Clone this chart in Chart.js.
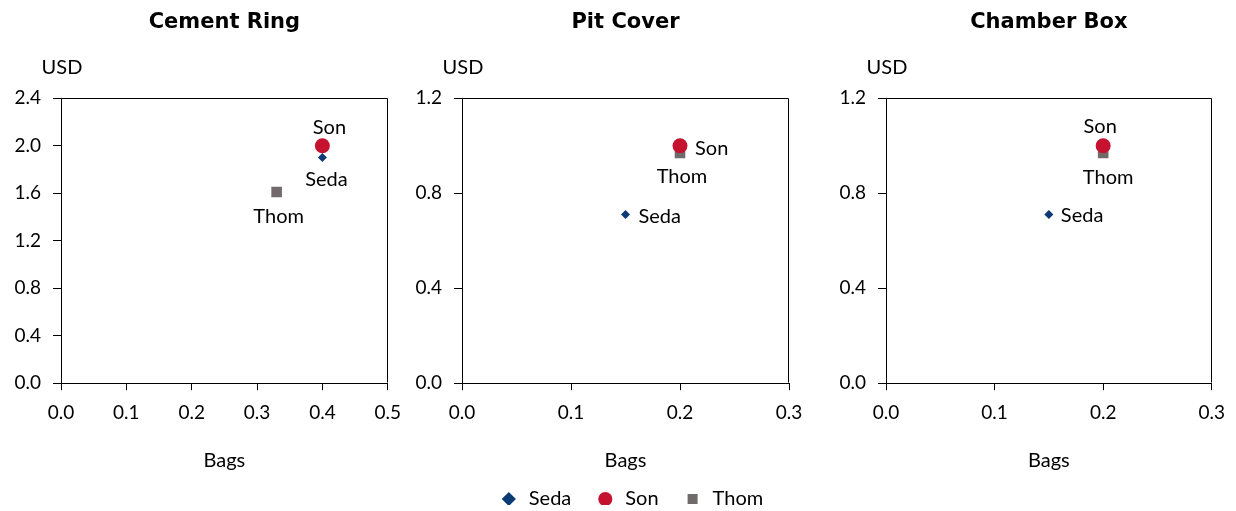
<!DOCTYPE html>
<html>
<head>
<meta charset="utf-8">
<script src="https://cdn.jsdelivr.net/npm/chart.js@4.4.1/dist/chart.umd.min.js"></script>
<style>
  html, body { margin: 0; padding: 0; background: #ffffff; }
  body { width: 1236px; height: 511px; position: relative; overflow: hidden; }
  canvas { position: absolute; }
</style>
</head>
<body>
<canvas id="c1" width="412" height="473" style="left:0px;top:0px"></canvas>
<canvas id="c2" width="412" height="473" style="left:412px;top:0px"></canvas>
<canvas id="c3" width="412" height="473" style="left:824px;top:0px"></canvas>
<canvas id="lg" width="400" height="80" style="left:431px;top:465px"></canvas>
<script>
// ---- data ----
const seriesNames = ['Seda', 'Son', 'Thom'];
const seriesColors = ['#0b3a75', '#c4122f', '#716a6a'];
const seriesShapes = ['rectRot', 'circle', 'rect'];
const seriesRadius = [4.5, 7.5, 7.5];

const chartTitles = ['Cement Ring', 'Pit Cover', 'Chamber Box'];

// Cement Ring: [bags, usd]
const cementRingSeda = [{x: 0.40, y: 1.90}];
const cementRingSon  = [{x: 0.40, y: 2.00}];
const cementRingThom = [{x: 0.33, y: 1.61}];

// Pit Cover
const pitCoverSeda = [{x: 0.15, y: 0.71}];
const pitCoverSon  = [{x: 0.20, y: 1.00}];
const pitCoverThom = [{x: 0.20, y: 0.97}];

// Chamber Box
const chamberBoxSeda = [{x: 0.15, y: 0.71}];
const chamberBoxSon  = [{x: 0.20, y: 1.00}];
const chamberBoxThom = [{x: 0.20, y: 0.97}];

// axis ranges / tick steps
const xMax = [0.5, 0.3, 0.3];
const yMax = [2.4, 1.2, 1.2];
const xStep = 0.1;
const yStep = 0.4;

const xAxisLabel = 'Bags';
const yAxisLabel = 'USD';

// ---- styling / layout (not data) ----
const FONT = 'Lato, "Open Sans", sans-serif';
const TITLE_FONT = '"DejaVu Sans", Lato, sans-serif';
const canvasLefts = [0, 412, 824];
const plotLefts = [61, 462, 886];
const rightPads = [21, 35, 21];

// label placements per chart per series: [dx, dy, textAlign]
const labelPlacement = [
  [[4, 22, 'center'], [7, -18, 'center'], [2, 25, 'center']],
  [[13, 2, 'left'], [15, 3, 'left'], [2, 24, 'center']],
  [[12, 1, 'left'], [-3, -19, 'center'], [5, 25, 'center']]
];

const allData = [
  [cementRingSeda, cementRingSon, cementRingThom],
  [pitCoverSeda, pitCoverSon, pitCoverThom],
  [chamberBoxSeda, chamberBoxSon, chamberBoxThom]
];

const boxPlugin = {
  id: 'boxPlugin',
  afterDraw(chart) {
    const a = chart.chartArea;
    const ctx = chart.ctx;
    ctx.save();
    ctx.strokeStyle = '#000';
    ctx.lineWidth = 1;
    ctx.beginPath();
    ctx.moveTo(Math.round(a.left) + 0.5, Math.round(a.top) + 0.5);
    ctx.lineTo(Math.round(a.right) - 0.5, Math.round(a.top) + 0.5);
    ctx.lineTo(Math.round(a.right) - 0.5, Math.round(a.bottom) - 0.5);
    ctx.stroke();
    // USD label above y axis
    ctx.fillStyle = '#000';
    ctx.font = '20px ' + FONT;
    ctx.textAlign = 'center';
    ctx.textBaseline = 'middle';
    ctx.fillText(yAxisLabel, a.left + 1, 68);
    ctx.restore();
  }
};

const pointLabelPlugin = {
  id: 'pointLabels',
  afterDatasetsDraw(chart, args, opts) {
    const ctx = chart.ctx;
    ctx.save();
    ctx.fillStyle = '#000';
    ctx.font = '20px ' + FONT;
    ctx.textBaseline = 'middle';
    chart.data.datasets.forEach((ds, i) => {
      const meta = chart.getDatasetMeta(i);
      const p = meta.data[0];
      const place = opts.placement[i];
      ctx.textAlign = place[2];
      ctx.fillText(ds.label, p.x + place[0], p.y + place[1]);
    });
    ctx.restore();
  }
};

function makeChart(idx) {
  const ctx = document.getElementById('c' + (idx + 1));
  const datasets = seriesNames.map((n, i) => ({
    label: n,
    data: allData[idx][i],
    backgroundColor: seriesColors[i],
    borderColor: seriesColors[i],
    pointStyle: seriesShapes[i],
    pointRadius: seriesRadius[i],
    pointHoverRadius: seriesRadius[i],
    pointBorderWidth: 0
  }));
  return new Chart(ctx, {
    type: 'scatter',
    data: { datasets },
    plugins: [boxPlugin, pointLabelPlugin],
    options: {
      responsive: false,
      animation: false,
      events: [],
      layout: { padding: { top: 0, right: rightPads[idx], bottom: 0, left: 0 } },
      plugins: {
        legend: { display: false },
        tooltip: { enabled: false },
        title: {
          display: true,
          text: chartTitles[idx],
          fullSize: false,
          color: '#000',
          font: { family: TITLE_FONT, size: 21, weight: 'bold', lineHeight: 1.2 },
          padding: { top: 10, bottom: 63 }
        },
        pointLabels: { placement: labelPlacement[idx] }
      },
      scales: {
        x: {
          type: 'linear',
          min: 0,
          max: xMax[idx],
          border: { display: true, color: '#000', width: 1 },
          grid: { display: true, drawOnChartArea: false, drawTicks: true, tickLength: 7, color: '#000' },
          ticks: {
            stepSize: xStep,
            color: '#000',
            padding: 11,
            maxRotation: 0,
            font: { family: FONT, size: 19 },
            callback: (v) => v.toFixed(1)
          },
          title: {
            display: true,
            text: xAxisLabel,
            color: '#000',
            font: { family: FONT, size: 20 },
            padding: { top: 14, bottom: 0 }
          }
        },
        y: {
          type: 'linear',
          min: 0,
          max: yMax[idx],
          afterFit: (s) => { s.width = plotLefts[idx] - canvasLefts[idx]; },
          border: { display: true, color: '#000', width: 1 },
          grid: { display: true, drawOnChartArea: false, drawTicks: true, tickLength: 8, color: '#000' },
          ticks: {
            stepSize: yStep,
            color: '#000',
            padding: 12,
            font: { family: FONT, size: 19 },
            callback: (v) => v.toFixed(1)
          }
        }
      }
    }
  });
}

[0, 1, 2].forEach(makeChart);

// legend-only chart
new Chart(document.getElementById('lg'), {
  type: 'scatter',
  data: {
    datasets: seriesNames.map((n, i) => ({
      label: n,
      data: [],
      backgroundColor: seriesColors[i],
      borderColor: seriesColors[i],
      pointStyle: seriesShapes[i],
      pointBorderWidth: 0
    }))
  },
  options: {
    responsive: false,
    animation: false,
    events: [],
    layout: { padding: 0 },
    scales: { x: { display: false }, y: { display: false } },
    plugins: {
      tooltip: { enabled: false },
      legend: {
        display: true,
        position: 'top',
        labels: {
          usePointStyle: true,
          boxHeight: 10,
          boxWidth: 20,
          padding: 24,
          color: '#000',
          font: { family: FONT, size: 20 }
        }
      }
    }
  }
});
</script>
</body>
</html>
